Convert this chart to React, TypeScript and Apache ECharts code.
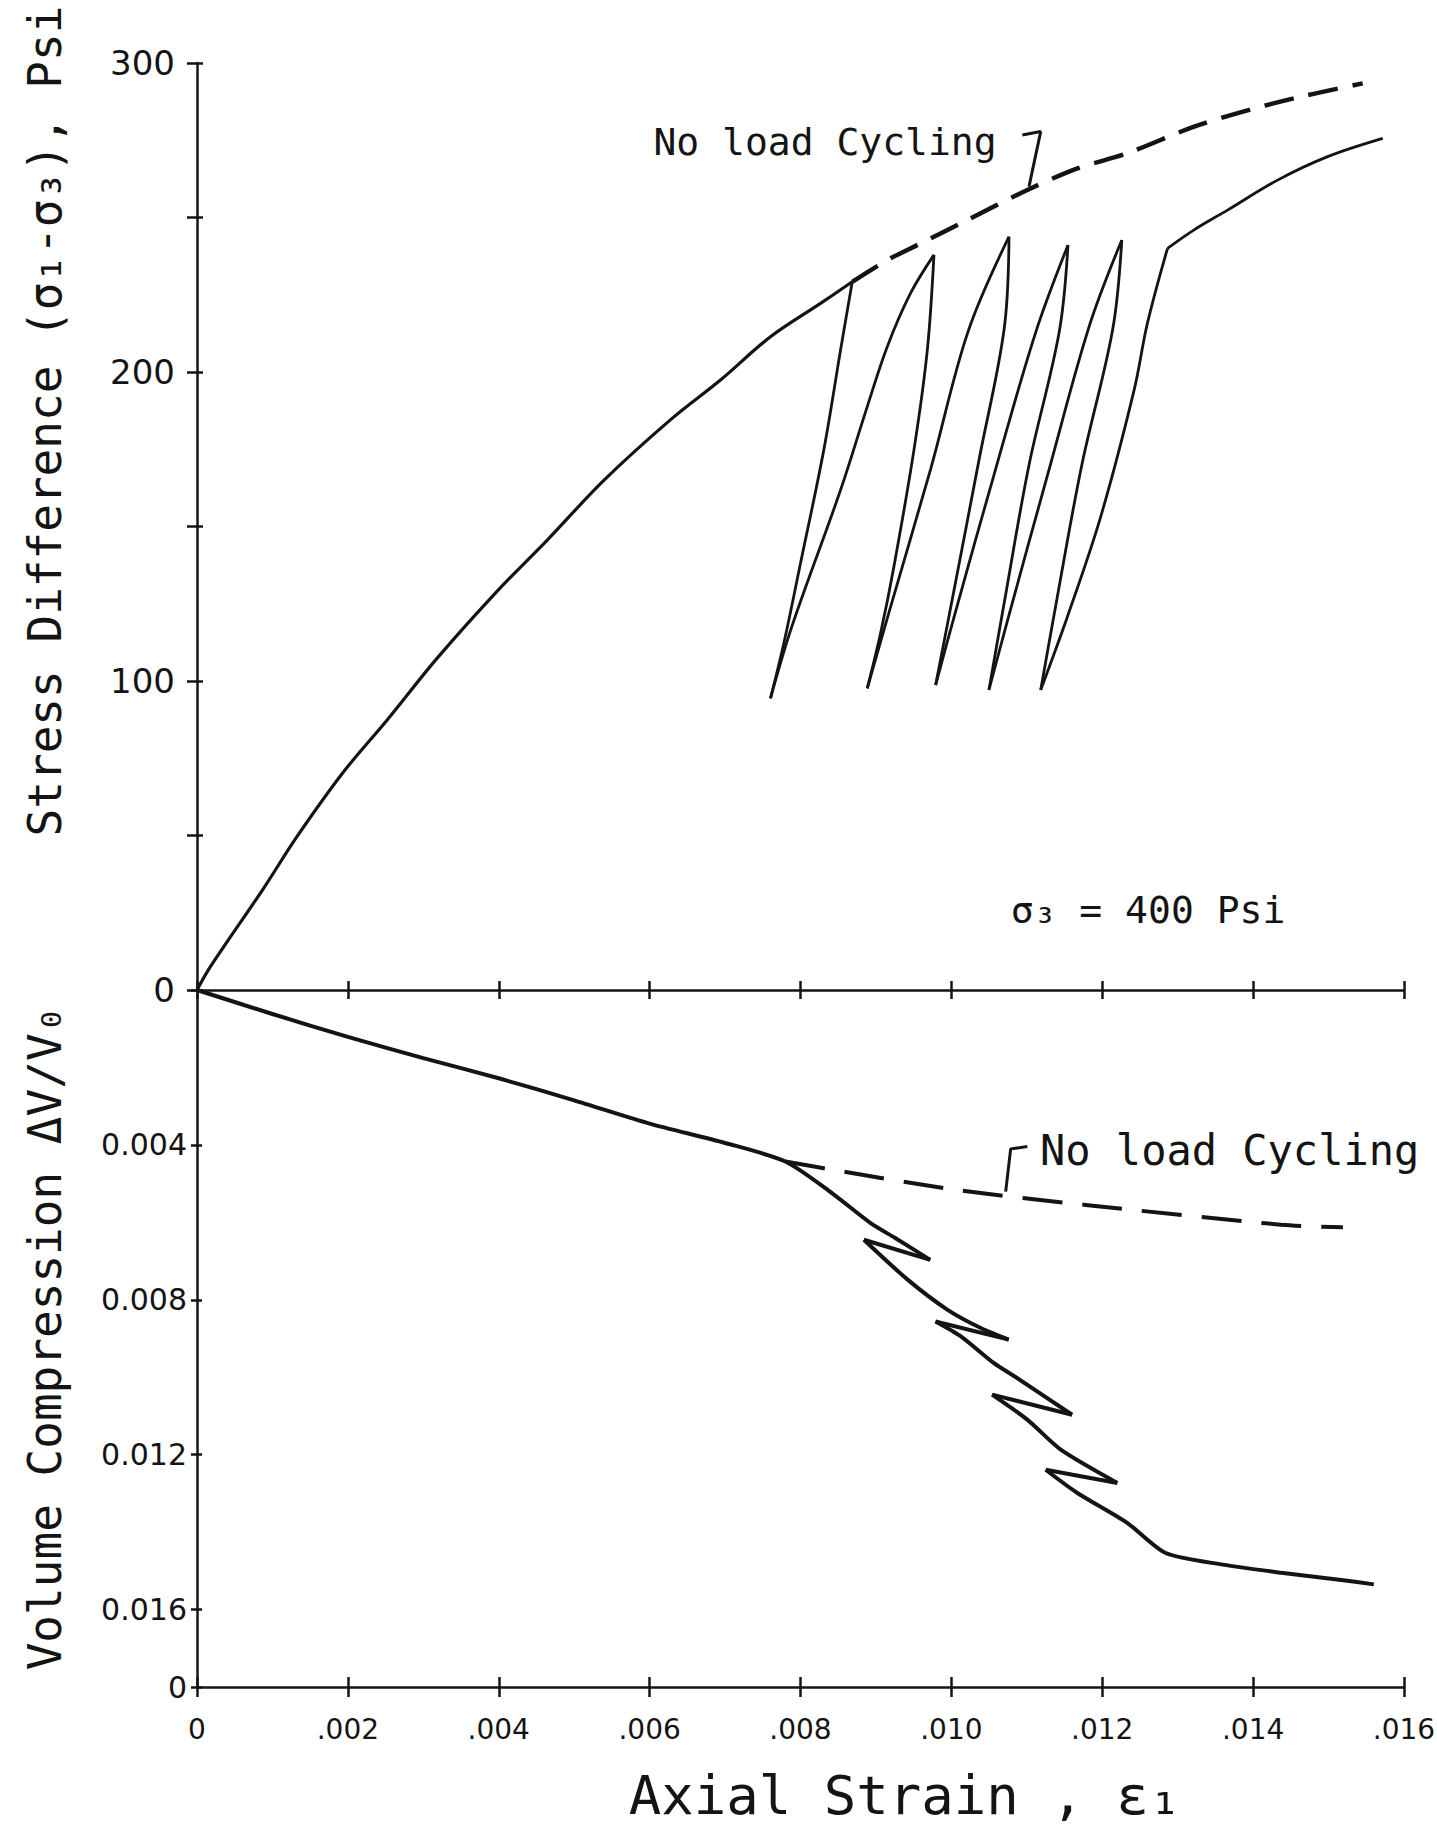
import React, { useEffect, useRef } from "react";
import * as echarts from "echarts";

// Axial strain axis: ticks every 0.002, printed labels
const strainTickLabels = ["0", ".002", ".004", ".006", ".008", ".010", ".012", ".014", ".016"];
// Stress difference axis (psi): labelled ticks
const stressTickLabels = [0, 100, 200, 300];
// Volume compression axis (downwards): labelled ticks and their text
const volumeTickValues = [0.004, 0.008, 0.012, 0.016, 0.018];
const volumeTickText = ["0.004", "0.008", "0.012", "0.016", "0"];

// Stress difference vs axial strain with five unload/reload cycles [strain, psi]
const stressCycled: [number, number][] = [
  [0, 0],
  [0.000176, 7.5],
  [0.000885, 33.0],
  [0.001327, 49.7],
  [0.001946, 70.7],
  [0.002521, 87.4],
  [0.003184, 107.4],
  [0.00398, 129.1],
  [0.004643, 145.6],
  [0.005396, 165.0],
  [0.006275, 184.5],
  [0.006939, 197.4],
  [0.007602, 211.4],
  [0.008265, 222.2],
  [0.008686, 229.2],
  [0.008531, 207.1],
  [0.008309, 174.8],
  [0.0080, 138.1],
  [0.007779, 112.2],
  [0.007602, 94.4],
  [0.007885, 117.6],
  [0.008531, 161.8],
  [0.008885, 188.8],
  [0.00915, 208.2],
  [0.009459, 225.5],
  [0.009769, 237.9],
  [0.009681, 207.1],
  [0.009504, 174.8],
  [0.009238, 137.0],
  [0.009061, 115.4],
  [0.008885, 97.6],
  [0.00917, 122],
  [0.00973, 169],
  [0.01022, 213],
  [0.010764, 243.8],
  [0.0107, 214],
  [0.01037, 172],
  [0.01004, 130],
  [0.009791, 98.7],
  [0.01005, 122],
  [0.01058, 168],
  [0.01112, 213],
  [0.011546, 241.1],
  [0.01143, 213],
  [0.01103, 170],
  [0.01072, 128],
  [0.010498, 97.1],
  [0.01076, 121],
  [0.01129, 168],
  [0.01183, 215],
  [0.012259, 242.7],
  [0.01214, 214],
  [0.01173, 170],
  [0.01141, 128],
  [0.011184, 97.1],
  [0.011538, 120.8],
  [0.01198, 153.2],
  [0.012423, 194.2],
  [0.012599, 215.8],
  [0.012865, 240.0],
  [0.013218, 246.0],
  [0.013661, 252.4],
  [0.014324, 262.1],
  [0.014988, 269.7],
  [0.015718, 275.6],
];

// Stress difference without load cycling (dashed continuation)
const stressNoCycling: [number, number][] = [
  [0.008686, 229.2],
  [0.00915, 236.2],
  [0.00959, 241.6],
  [0.010123, 248.1],
  [0.011007, 258.9],
  [0.011671, 265.9],
  [0.012334, 270.8],
  [0.013218, 279.4],
  [0.01397, 285.0],
  [0.014722, 289.6],
  [0.015452, 293.4],
];

// Leader from the upper note to the dashed curve
const stressLeader: [number, number][] = [
  [0.010941, 276.7],
  [0.011184, 277.8],
  [0.011029, 260.0],
];

// Volume compression vs axial strain with cycling [strain, dV/V0]
const volumeCycled: [number, number][] = [
  [0, 0],
  [0.001, 0.00062],
  [0.002, 0.00121],
  [0.003, 0.00176],
  [0.004, 0.00228],
  [0.005, 0.00285],
  [0.006, 0.00345],
  [0.007, 0.00395],
  [0.0078, 0.00443],
  [0.00842, 0.00525],
  [0.00893, 0.00602],
  [0.00926, 0.00641],
  [0.00972, 0.00697],
  [0.00884, 0.00645],
  [0.00942, 0.00748],
  [0.00995, 0.00826],
  [0.01039, 0.00873],
  [0.01076, 0.00903],
  [0.00979, 0.00856],
  [0.01013, 0.00895],
  [0.01056, 0.00963],
  [0.01087, 0.01002],
  [0.0116, 0.01097],
  [0.01054, 0.01045],
  [0.01101, 0.0111],
  [0.01145, 0.01187],
  [0.0122, 0.01273],
  [0.01125, 0.01239],
  [0.01167, 0.01299],
  [0.01233, 0.01376],
  [0.01284, 0.01454],
  [0.0136, 0.01484],
  [0.01437, 0.01505],
  [0.01514, 0.01523],
  [0.0156, 0.01535],
];

// Volume compression without load cycling (dashed)
const volumeNoCycling: [number, number][] = [
  [0.0078, 0.00443],
  [0.00857, 0.00469],
  [0.01006, 0.00516],
  [0.01178, 0.00555],
  [0.01437, 0.00606],
  [0.01519, 0.00613],
];

// Leader from the lower note to the dashed curve
const volumeLeader: [number, number][] = [
  [0.011007, 0.004044],
  [0.010786, 0.004103],
  [0.01072, 0.005205],
];

const INK = "#141414";
const HAND = '"DejaVu Sans Mono", monospace';
const DIGITS = '"DejaVu Sans", sans-serif';

// plot extents in pixels, used only to judge how sharply a traced path turns
const PLOT_W = 1207;
const UPPER_H = 927;
const LOWER_H = 697;

const near = (a: number, b: number) => Math.abs(a - b) < 1e-9;

function strainLabel(v: number): string {
  const i = Math.round(v / 0.002);
  return near(v, i * 0.002) && strainTickLabels[i] !== undefined ? strainTickLabels[i] : "";
}

function volumeLabel(v: number): string {
  const i = volumeTickValues.findIndex((t) => near(t, v));
  return i >= 0 ? volumeTickText[i] : "";
}

// Break a traced path into pieces at its sharp corners (load reversals, knees),
// so each piece can be drawn smooth while the corners stay crisp.
function splitAtCorners(
  pts: [number, number][],
  xSpan: number,
  ySpan: number,
  w: number,
  h: number,
  maxTurnDeg: number
): [number, number][][] {
  const sx = w / xSpan;
  const sy = h / ySpan;
  const pieces: [number, number][][] = [];
  let cur: [number, number][] = [pts[0]];
  for (let i = 1; i < pts.length; i++) {
    cur.push(pts[i]);
    if (i < pts.length - 1) {
      const a1 = Math.atan2((pts[i][1] - pts[i - 1][1]) * sy, (pts[i][0] - pts[i - 1][0]) * sx);
      const a2 = Math.atan2((pts[i + 1][1] - pts[i][1]) * sy, (pts[i + 1][0] - pts[i][0]) * sx);
      let d = Math.abs(a2 - a1) * (180 / Math.PI);
      if (d > 180) d = 360 - d;
      if (d > maxTurnDeg) {
        pieces.push(cur);
        cur = [pts[i]];
      }
    }
  }
  pieces.push(cur);
  return pieces;
}

function buildOption(): echarts.EChartsCoreOption {
  const axisLine = { show: true, onZero: false, lineStyle: { color: INK, width: 2.5 } };
  const hiddenLine = { show: false, onZero: false };
  const tick = (inside: boolean, length: number) => ({
    show: true,
    inside,
    length,
    lineStyle: { color: INK, width: 2.5 },
  });
  const strainAxis = (gridIndex: number, labels: boolean, inside: boolean, len: number) => ({
    type: "value",
    gridIndex,
    position: "bottom",
    min: 0,
    max: 0.016,
    interval: 0.002,
    axisLine: inside ? hiddenLine : axisLine,
    axisTick: tick(inside, len),
    axisLabel: labels
      ? {
          show: true,
          formatter: strainLabel,
          margin: 28,
          color: INK,
          fontSize: 28,
          fontFamily: DIGITS,
          showMinLabel: true,
          showMaxLabel: true,
        }
      : { show: false },
    splitLine: { show: false },
  });

  const stressPieces = splitAtCorners(stressCycled, 0.016, 300, PLOT_W, UPPER_H, 35);
  const volumePieces = splitAtCorners(volumeCycled, 0.016, 0.018, PLOT_W, LOWER_H, 35);

  const stressSeries = stressPieces.map((piece, i) => ({
    name: i === 0 ? "Stress, load cycling" : `Stress, load cycling ${i + 1}`,
    type: "line",
    xAxisIndex: 0,
    yAxisIndex: 0,
    data: piece,
    symbol: "none",
    smooth: 0.35,
    lineStyle: { color: INK, width: i === 0 ? 3.2 : 2.8 },
    silent: true,
  }));

  const volumeSeries = volumePieces.map((piece, i) => ({
    name: i === 0 ? "Volume, load cycling" : `Volume, load cycling ${i + 1}`,
    type: "line",
    xAxisIndex: 2,
    yAxisIndex: 2,
    data: piece,
    symbol: "none",
    smooth: 0.25,
    lineStyle: { color: INK, width: 4 },
    silent: true,
  }));

  const text = (
    x: number,
    y: number,
    content: string,
    size: number,
    align: "left" | "center",
    rotation = 0
  ) => ({
    type: "text",
    x,
    y,
    rotation,
    style: {
      text: content,
      font: `${size}px ${HAND}`,
      fill: INK,
      textAlign: align,
      textVerticalAlign: "middle",
      align,
      verticalAlign: "middle",
    },
  });

  return {
    animation: false,
    backgroundColor: "#ffffff",
    grid: [
      { left: 197, top: 63, width: PLOT_W, height: UPPER_H, containLabel: false, outerBoundsMode: "none" },
      { left: 197, top: 990, width: PLOT_W, height: LOWER_H, containLabel: false, outerBoundsMode: "none" },
    ],
    xAxis: [
      strainAxis(0, false, false, 9),
      strainAxis(0, false, true, 9),
      strainAxis(1, true, false, 10),
      strainAxis(1, false, true, 10),
    ],
    yAxis: [
      {
        type: "value",
        gridIndex: 0,
        position: "left",
        min: 0,
        max: 300,
        interval: 50,
        axisLine,
        axisTick: tick(false, 10),
        axisLabel: {
          show: true,
          formatter: (v: number) => (stressTickLabels.includes(v) ? String(v) : ""),
          margin: 22,
          color: INK,
          fontSize: 34,
          fontFamily: DIGITS,
          showMinLabel: true,
          showMaxLabel: true,
        },
        splitLine: { show: false },
      },
      {
        type: "value",
        gridIndex: 0,
        position: "left",
        min: 0,
        max: 300,
        interval: 50,
        axisLine: hiddenLine,
        axisTick: tick(true, 6),
        axisLabel: { show: false },
        splitLine: { show: false },
      },
      {
        type: "value",
        gridIndex: 1,
        position: "left",
        inverse: true,
        min: 0,
        max: 0.018,
        interval: 0.004,
        axisLine,
        axisTick: tick(false, 6),
        axisLabel: {
          show: true,
          formatter: volumeLabel,
          margin: 10,
          color: INK,
          fontSize: 30,
          fontFamily: DIGITS,
          showMinLabel: true,
          showMaxLabel: true,
        },
        splitLine: { show: false },
      },
      {
        type: "value",
        gridIndex: 1,
        position: "left",
        inverse: true,
        min: 0,
        max: 0.018,
        interval: 0.004,
        axisLine: hiddenLine,
        axisTick: tick(true, 5),
        axisLabel: { show: false },
        splitLine: { show: false },
      },
    ],
    series: [
      ...stressSeries,
      {
        name: "Stress, no load cycling",
        type: "line",
        xAxisIndex: 0,
        yAxisIndex: 0,
        data: stressNoCycling,
        symbol: "none",
        smooth: 0.3,
        lineStyle: { color: INK, width: 4.5, type: [30, 15] },
        silent: true,
      },
      {
        name: "Stress note leader",
        type: "line",
        xAxisIndex: 0,
        yAxisIndex: 0,
        data: stressLeader,
        symbol: "none",
        lineStyle: { color: INK, width: 3 },
        silent: true,
      },
      ...volumeSeries,
      {
        name: "Volume, no load cycling",
        type: "line",
        xAxisIndex: 2,
        yAxisIndex: 2,
        data: volumeNoCycling,
        symbol: "none",
        smooth: 0.3,
        lineStyle: { color: INK, width: 4, type: [40, 20] },
        silent: true,
      },
      {
        name: "Volume note leader",
        type: "line",
        xAxisIndex: 2,
        yAxisIndex: 2,
        data: volumeLeader,
        symbol: "none",
        lineStyle: { color: INK, width: 3 },
        silent: true,
      },
    ],
    graphic: [
      text(45, 421, "Stress Difference (σ₁-σ₃), Psi", 46, "center", Math.PI / 2),
      text(45, 1338, "Volume Compression ΔV/V₀", 46, "center", Math.PI / 2),
      text(905, 1795, "Axial Strain , ε₁", 54, "center"),
      text(825, 142, "No load Cycling", 38, "center"),
      text(1040, 1150, "No load Cycling", 42, "left"),
      text(1148, 910, "σ₃ = 400 Psi", 38, "center"),
    ],
  };
}

export default function App() {
  const ref = useRef<HTMLDivElement | null>(null);

  useEffect(() => {
    if (!ref.current) return;
    const chart = echarts.init(ref.current, undefined, { renderer: "svg" });
    chart.setOption(buildOption());
    return () => chart.dispose();
  }, []);

  return (
    <div
      ref={ref}
      style={{ position: "absolute", left: 0, top: 0, width: 1437, height: 1825, background: "#fff" }}
    />
  );
}
